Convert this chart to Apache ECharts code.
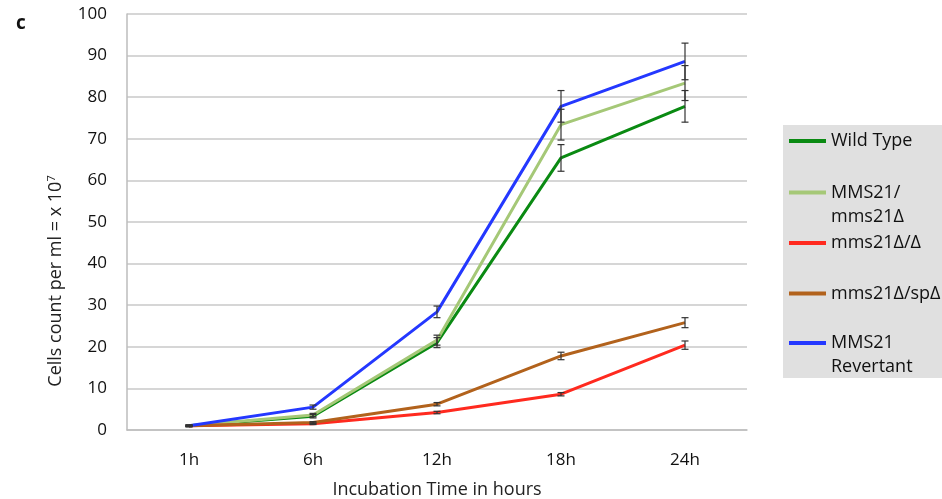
<!DOCTYPE html>
<html>
<head>
<meta charset="utf-8">
<script src="https://cdn.jsdelivr.net/npm/echarts@6/dist/echarts.min.js"></script>
<style>
html,body{margin:0;padding:0;background:#fff;}
.Tu{width:942px;height:499px;}
</style>
</head>
<body>
<div class="Tu"></div>
<script>
var hours = ['1h', '6h', '12h', '18h', '24h'];
var names = ['Wild Type', 'MMS21/\nmms21Δ', 'mms21Δ/Δ', 'mms21Δ/spΔ', 'MMS21\nRevertant'];
var colors = ['#0a8a12', '#a5c877', '#ff2a1f', '#b2621c', '#2438ff'];

var wildType = [1, 3.3, 21, 65.4, 77.8];
var mmsHet = [1, 3.6, 21.6, 73.4, 83.4];
var mmsDel = [1, 1.5, 4.2, 8.6, 20.4];
var mmsSp = [1, 1.8, 6.2, 17.8, 25.8];
var revertant = [1, 5.5, 28.4, 77.8, 88.6];

// error bar half widths
var errWild = [0.2, 0.4, 1.2, 3.2, 3.8];
var errHet = [0.2, 0.4, 1.2, 3.7, 4.2];
var errDel = [0.1, 0.2, 0.3, 0.4, 1.0];
var errSp = [0.1, 0.2, 0.4, 0.9, 1.2];
var errRev = [0.2, 0.5, 1.4, 3.8, 4.4];

var yTicks = [0, 100, 10];

var allData = [wildType, mmsHet, mmsDel, mmsSp, revertant];
var allErr = [errWild, errHet, errDel, errSp, errRev];

var Tu = echarts.init(document.querySelector('.Tu'));

var series = [];
var legends = [];
// centre of each legend icon (px)
var legendMid = [141, 192.5, 243, 293.5, 343];
for (var i = 0; i < names.length; i++) {
	var twoLines = names[i].indexOf('\n') > 0;
	series.push({
		name: names[i],
		type: 'line',
		data: allData[i],
		symbol: 'none',
		lineStyle: { width: 3, color: colors[i] },
		itemStyle: { color: colors[i] },
		z: 3 + i
	});
	legends.push({
		data: [names[i]],
		left: 789,
		top: twoLines ? legendMid[i] - 36 : legendMid[i] - 12,
		icon: 'rect',
		itemWidth: 37,
		itemHeight: 4,
		itemGap: 0,
		selectedMode: false,
		padding: 0,
		formatter: function(name) {
			// blank first line keeps the icon level with the first text line
			return name.indexOf('\n') > 0 ? '\n' + name : name;
		},
		textStyle: {
			color: '#111',
			fontSize: 18,
			fontFamily: 'Open Sans',
			lineHeight: 24
		}
	});
}
for (var j = 0; j < names.length; j++) {
	var bars = [];
	for (var k = 0; k < hours.length; k++) {
		bars.push([k, allData[j][k] - allErr[j][k], allData[j][k] + allErr[j][k]]);
	}
	series.push({
		type: 'custom',
		z: 10,
		renderItem: function(params, api) {
			var x = api.value(0);
			var lo = api.coord([x, api.value(1)]);
			var hi = api.coord([x, api.value(2)]);
			var c = 3.5;
			var st = { stroke: '#333', lineWidth: 1.2 };
			return {
				type: 'group',
				children: [
					{ type: 'line', shape: { x1: lo[0], y1: lo[1], x2: hi[0], y2: hi[1] }, style: st },
					{ type: 'line', shape: { x1: hi[0] - c, y1: hi[1], x2: hi[0] + c, y2: hi[1] }, style: st },
					{ type: 'line', shape: { x1: lo[0] - c, y1: lo[1], x2: lo[0] + c, y2: lo[1] }, style: st }
				]
			};
		},
		data: bars
	});
}

option = {
	animation: false,
	textStyle: { fontFamily: 'Open Sans' },
	title: {
		text: 'c',
		left: 11,
		top: 9,
		textStyle: { fontSize: 19, fontWeight: 'bold', color: '#111', fontFamily: 'Open Sans' }
	},
	graphic: [{
		type: 'rect',
		shape: { x: 783, y: 125, width: 170, height: 253 },
		style: { fill: '#e0e0e0' },
		z: -1
	}],
	legend: legends,
	grid: {
		left: 127,
		right: 195,
		top: 14,
		bottom: 69,
		containLabel: false,
		outerBoundsMode: 'none'
	},
	xAxis: {
		type: 'category',
		data: hours,
		name: 'Incubation Time in hours',
		nameLocation: 'middle',
		nameGap: 51,
		nameTextStyle: { fontSize: 18, color: '#222', fontFamily: 'Open Sans' },
		axisLine: { lineStyle: { color: '#bdbdbd', width: 1.5 } },
		axisTick: { show: false },
		axisLabel: { fontSize: 17, color: '#111', margin: 22, fontFamily: 'Open Sans' }
	},
	yAxis: {
		type: 'value',
		min: yTicks[0],
		max: yTicks[1],
		interval: yTicks[2],
		name: '{a|Cells count per ml = x 10}{b|7}',
		nameLocation: 'middle',
		nameGap: 61,
		nameRotate: 90,
		nameTextStyle: {
			padding: [0, 118, 0, 0],
			rich: {
				a: { fontSize: 18, color: '#222', fontFamily: 'Open Sans' },
				b: { fontSize: 11, color: '#222', fontFamily: 'Open Sans', verticalAlign: 'top', padding: [0, 0, 9, 0] }
			}
		},
		axisLine: { show: true, lineStyle: { color: '#bdbdbd', width: 1.5 } },
		axisTick: { show: false },
		splitLine: { lineStyle: { color: '#c8c8c8', width: 1.5 } },
		axisLabel: { fontSize: 17, color: '#111', margin: 20, fontFamily: 'Open Sans' }
	},
	series: series
};
Tu.setOption(option);
</script>
</body>
</html>
